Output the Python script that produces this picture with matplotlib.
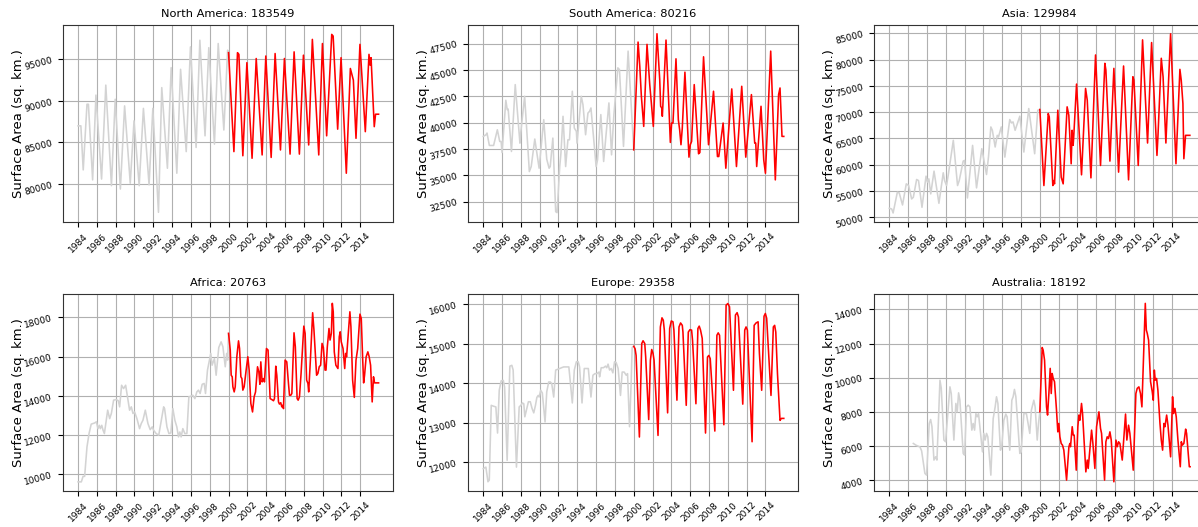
import matplotlib
matplotlib.use("Agg")
import matplotlib.pyplot as plt
import numpy as np

# ---------------- data (decimal year, surface area in sq. km) ----------------
na_years = [1984.0, 1984.3, 1984.55, 1984.95, 1985.1, 1985.55, 1985.9, 1986.5, 1986.95, 1987.55,
            1987.95, 1988.5, 1988.95, 1989.55, 1989.95, 1990.5, 1990.95, 1991.55, 1991.95, 1992.55,
            1992.9, 1993.5, 1993.9, 1994.5, 1994.9, 1995.5, 1995.95, 1996.55, 1996.95, 1997.5,
            1997.9, 1998.5, 1998.9, 1999.5, 1999.9, 2000.0, 2000.57, 2000.95, 2001.1, 2001.52,
            2001.95, 2002.5, 2002.94, 2003.57, 2003.96, 2004.53, 2004.95, 2005.52, 2005.94, 2006.54,
            2006.97, 2007.53, 2007.96, 2008.52, 2008.91, 2009.59, 2009.98, 2010.43, 2010.97, 2011.12,
            2011.6, 2011.96, 2012.52, 2012.95, 2013.27, 2013.55, 2013.97, 2014.54, 2014.93, 2015.05,
            2015.15, 2015.49, 2015.63, 2015.95]
na_area = [87000, 87000, 81700, 89600, 89600, 80500, 90700, 80600, 91900, 79800,
           90200, 79400, 89400, 80100, 87600, 79800, 89100, 79900, 89100, 76600,
           91600, 81900, 94000, 81300, 93800, 83900, 96500, 84400, 97300, 85800,
           96400, 84800, 96900, 86500, 96100, 95800, 83900, 95800, 95600, 83400,
           94600, 83100, 95100, 83500, 95400, 83200, 95700, 84100, 95100, 83600,
           95900, 83600, 95500, 84700, 97400, 83500, 96900, 85800, 98000, 97800,
           86600, 95200, 81300, 93900, 92500, 85500, 96800, 86300, 95600, 94300,
           95200, 86900, 88400, 88400]

sa_years = [1984.0, 1984.3, 1984.4, 1984.65, 1985.1, 1985.5, 1985.75, 1985.9, 1986.0, 1986.4,
            1986.55, 1986.65, 1987.0, 1987.4, 1987.9, 1987.98, 1988.4, 1988.9, 1989.1, 1989.48,
            1989.94, 1990.43, 1990.75, 1991.0, 1991.12, 1991.4, 1991.7, 1991.85, 1992.13, 1992.26,
            1992.48, 1992.76, 1993.0, 1993.17, 1993.47, 1993.68, 1993.9, 1993.97, 1994.42, 1994.6,
            1994.88, 1995.13, 1995.3, 1995.45, 1996.0, 1996.15, 1996.5, 1996.8, 1997.36, 1997.64,
            1997.89, 1998.31, 1998.48, 1998.91, 1999.4, 2000.0, 2000.46, 2000.64, 2000.81, 2001.06,
            2001.41, 2001.7, 2001.87, 2002.08, 2002.47, 2002.76, 2002.86, 2002.97, 2003.04, 2003.43,
            2003.75, 2003.89, 2004.03, 2004.17, 2004.49, 2004.74, 2004.88, 2005.02, 2005.16, 2005.44,
            2005.87, 2006.01, 2006.15, 2006.43, 2006.89, 2007.03, 2007.42, 2007.95, 2008.48, 2008.9,
            2009.04, 2009.5, 2009.79, 2010.42, 2010.92, 2011.48, 2011.91, 2012.51, 2012.86, 2012.97,
            2013.07, 2013.53, 2013.82, 2014.0, 2014.56, 2015.05, 2015.4, 2015.55, 2015.76, 2015.95]
sa_area = [38700, 38860, 39020, 37840, 37840, 39330, 38220, 38220, 37170, 42130,
           41240, 41300, 37270, 43620, 38060, 39000, 42510, 35360, 35840, 38450,
           35680, 40290, 36540, 35680, 35840, 38540, 31550, 31460, 35840, 37110,
           40610, 35840, 38380, 38380, 42990, 39490, 39180, 38060, 42510, 41720,
           38860, 40920, 41080, 41400, 35840, 36470, 40770, 36320, 41880, 36950,
           40770, 45210, 45050, 37750, 46800, 37430, 47660, 45370, 42510, 39650,
           47440, 43620, 41880, 39650, 48450, 44100, 41560, 41400, 40610, 47850,
           41240, 38130, 39970, 39970, 46070, 40290, 39330, 37910, 39490, 44800,
           36730, 37910, 38220, 43620, 37050, 37170, 46260, 37910, 42990, 36790,
           36790, 39970, 35680, 43210, 35840, 43460, 36730, 42670, 38060, 38060,
           35840, 41560, 36470, 35200, 46800, 34570, 42670, 43300, 38700, 38700]

asia_years = [1984.0, 1984.25, 1984.4, 1984.85, 1985.05, 1985.4, 1985.8, 1986.05, 1986.37, 1986.55,
              1986.9, 1987.1, 1987.47, 1987.9, 1988.05, 1988.2, 1988.4, 1988.75, 1989.27, 1989.73,
              1989.87, 1990.08, 1990.28, 1990.8, 1991.25, 1991.43, 1991.85, 1992.0, 1992.3, 1992.85,
              1993.27, 1993.83, 1994.33, 1994.54, 1994.79, 1994.95, 1995.25, 1995.47, 1995.6, 1995.9,
              1996.28, 1996.8, 1996.98, 1997.15, 1997.37, 1997.87, 1998.3, 1998.82, 1999.45, 1999.78,
              2000.0, 2000.43, 2000.89, 2001.0, 2001.38, 2001.49, 2001.56, 2001.91, 2002.27, 2002.48,
              2002.9, 2003.08, 2003.33, 2003.43, 2003.54, 2003.61, 2003.9, 2004.43, 2004.86, 2005.04,
              2005.43, 2005.92, 2006.45, 2006.91, 2007.02, 2007.45, 2007.87, 2008.37, 2008.9, 2009.43,
              2009.89, 2010.0, 2010.46, 2010.92, 2011.45, 2011.88, 2012.45, 2012.56, 2012.91, 2013.1,
              2013.4, 2013.9, 2014.47, 2014.89, 2015.03, 2015.21, 2015.31, 2015.49, 2015.95]
asia_area = [51720, 51590, 50830, 54780, 54650, 52350, 56370, 56050, 53500, 53820,
             57200, 57000, 51910, 57830, 56690, 57320, 54460, 58790, 52670, 58470,
             57000, 56050, 58280, 64650, 56050, 57000, 60700, 60830, 53690, 63690,
             55600, 63060, 58150, 61460, 67200, 66560, 63380, 65600, 65280, 67200,
             61460, 68600, 67960, 68150, 66560, 69240, 62420, 70700, 62100, 70380,
             70510, 56050, 69750, 69110, 56050, 57000, 56370, 70380, 57640, 56370,
             71020, 69430, 60190, 66560, 63700, 65600, 75350, 58090, 74520, 72290,
             57510, 80890, 59870, 79300, 78030, 60700, 78340, 58600, 78790, 57130,
             76750, 76120, 59870, 83760, 64140, 83250, 61780, 65600, 80260, 76750,
             64140, 84910, 60190, 78150, 76120, 71660, 61150, 65600, 65600]

africa_years = [1984.0, 1984.35, 1984.53, 1984.7, 1984.95, 1985.17, 1985.4, 1985.77, 1985.95, 1986.12,
                1986.26, 1986.37, 1986.52, 1986.66, 1986.8, 1987.15, 1987.36, 1987.54, 1987.78, 1988.06,
                1988.28, 1988.42, 1988.63, 1988.84, 1989.06, 1989.48, 1989.66, 1989.84, 1990.01, 1990.26,
                1990.54, 1990.72, 1990.9, 1991.15, 1991.43, 1991.67, 1991.89, 1992.03, 1992.3, 1992.58,
                1993.1, 1993.2, 1993.45, 1993.66, 1993.87, 1994.08, 1994.29, 1994.5, 1994.68, 1994.82,
                1994.96, 1995.14, 1995.35, 1995.57, 1995.78, 1996.0, 1996.2, 1996.42, 1996.63, 1996.8,
                1996.98, 1997.2, 1997.41, 1997.55, 1997.76, 1997.97, 1998.11, 1998.25, 1998.5, 1998.68,
                1998.96, 1999.21, 1999.4, 1999.65, 1999.8, 1999.9, 2000.0, 2000.18, 2000.28, 2000.39,
                2000.46, 2000.6, 2000.71, 2000.88, 2001.06, 2001.17, 2001.31, 2001.42, 2001.52, 2001.66,
                2001.87, 2002.05, 2002.19, 2002.37, 2002.55, 2002.72, 2002.87, 2003.08, 2003.22, 2003.33,
                2003.43, 2003.57, 2003.71, 2003.82, 2004.03, 2004.2, 2004.42, 2004.6, 2004.78, 2004.88,
                2005.02, 2005.13, 2005.31, 2005.41, 2005.55, 2005.66, 2005.77, 2005.84, 2006.01, 2006.19,
                2006.37, 2006.48, 2006.62, 2006.73, 2006.96, 2007.1, 2007.29, 2007.4, 2007.54, 2007.71,
                2008.0, 2008.14, 2008.3, 2008.44, 2008.52, 2008.7, 2008.94, 2009.08, 2009.36, 2009.5,
                2009.64, 2009.79, 2009.94, 2010.08, 2010.26, 2010.36, 2010.5, 2010.68, 2010.79, 2010.93,
                2011.03, 2011.13, 2011.24, 2011.41, 2011.63, 2011.77, 2011.87, 2011.98, 2012.17, 2012.35,
                2012.45, 2012.55, 2012.9, 2013.01, 2013.19, 2013.37, 2013.55, 2013.73, 2013.97, 2014.11,
                2014.25, 2014.36, 2014.46, 2014.63, 2014.81, 2014.95, 2015.1, 2015.27, 2015.41, 2015.52,
                2015.95]
africa_area = [9620, 9620, 9900, 9900, 11400, 12080, 12560, 12620, 12680, 12330,
               12500, 12330, 12500, 12250, 12080, 13270, 12840, 13100, 13780, 13810,
               13750, 13440, 14540, 14370, 14540, 13270, 13440, 13100, 13180, 12840,
               12330, 12590, 12760, 13270, 12590, 12280, 12420, 12250, 12080, 12000,
               13440, 13350, 12420, 12080, 12110, 13350, 12760, 12420, 11910, 12160,
               11910, 12330, 12080, 12080, 13950, 13980, 14030, 13860, 14200, 14290,
               14120, 14590, 14630, 14120, 15310, 15820, 16160, 15560, 15900, 15050,
               16460, 16750, 16500, 15480, 16160, 15820, 17180, 16330, 15050, 14970,
               14460, 14200, 14460, 15990, 16800, 16410, 14970, 14880, 14290, 14460,
               15310, 15990, 15310, 13610, 13180, 13950, 14200, 15480, 15220, 14590,
               15730, 14710, 14880, 14710, 16410, 16330, 13860, 13810, 13750, 13860,
               15510, 15050, 13690, 13580, 13650, 13440, 13520, 13350, 15820, 15730,
               14630, 14030, 14030, 14120, 17210, 16500, 13860, 13780, 13950, 15140,
               17550, 17180, 14800, 14630, 14200, 15820, 18230, 17350, 15050, 15140,
               15480, 15560, 16670, 16460, 15310, 15310, 16500, 17430, 16840, 17180,
               18710, 18280, 16240, 15560, 15390, 17010, 17260, 16750, 16410, 15390,
               16160, 15990, 18280, 17520, 14800, 13920, 15820, 16410, 18160, 17940,
               15990, 14660, 15050, 15990, 16240, 15990, 15560, 13690, 14970, 14660,
               14660]

europe_years = [1984.0, 1984.28, 1984.5, 1984.64, 1984.85, 1985.06, 1985.34, 1985.52, 1985.7, 1985.91,
                1986.13, 1986.27, 1986.54, 1986.83, 1987.04, 1987.18, 1987.53, 1987.82, 1988.0, 1988.16,
                1988.31, 1988.42, 1988.59, 1988.8, 1989.0, 1989.19, 1989.37, 1989.55, 1989.7, 1989.84,
                1989.94, 1990.11, 1990.28, 1990.57, 1990.75, 1990.96, 1991.13, 1991.28, 1991.49, 1991.7,
                1991.91, 1992.13, 1992.33, 1992.55, 1992.83, 1993.1, 1993.47, 1993.68, 1993.9, 1994.1,
                1994.24, 1994.5, 1994.74, 1994.95, 1995.17, 1995.45, 1995.66, 1995.87, 1996.08, 1996.3,
                1996.37, 1996.54, 1996.78, 1997.0, 1997.13, 1997.27, 1997.43, 1997.6, 1997.78, 1997.96,
                1998.13, 1998.34, 1998.59, 1998.77, 1998.98, 1999.2, 1999.34, 1999.55, 1999.72, 1999.83,
                2000.0, 2000.14, 2000.25, 2000.6, 2000.85, 2000.99, 2001.17, 2001.27, 2001.59, 2001.77,
                2001.91, 2002.05, 2002.16, 2002.58, 2002.83, 2003.0, 2003.14, 2003.25, 2003.6, 2003.82,
                2003.99, 2004.17, 2004.27, 2004.59, 2004.81, 2004.98, 2005.16, 2005.23, 2005.58, 2005.8,
                2005.97, 2006.15, 2006.25, 2006.61, 2006.82, 2006.96, 2007.1, 2007.28, 2007.63, 2007.84,
                2007.98, 2008.13, 2008.62, 2008.84, 2008.98, 2009.12, 2009.58, 2009.82, 2010.0, 2010.18,
                2010.6, 2010.81, 2010.99, 2011.13, 2011.59, 2011.8, 2011.94, 2012.08, 2012.58, 2012.8,
                2013.0, 2013.22, 2013.36, 2013.6, 2013.85, 2013.99, 2014.13, 2014.59, 2014.84, 2014.98,
                2015.1, 2015.28, 2015.55, 2015.69, 2015.95]
europe_area = [11840, 11880, 11510, 11550, 13440, 13420, 13400, 12740, 13820, 14060,
               14070, 13900, 12050, 14430, 14450, 14330, 11880, 13400, 13440, 13500,
               13480, 13150, 13320, 13530, 13530, 13360, 13250, 13440, 13640, 13690,
               13650, 13820, 13750, 13020, 13780, 14030, 14030, 13990, 13650, 14330,
               14350, 14370, 14390, 14410, 14410, 14410, 13500, 14330, 14540, 14540,
               14410, 13500, 14370, 14370, 14370, 13650, 14200, 14240, 14240, 14280,
               14160, 14390, 14390, 14430, 14390, 14480, 14330, 14370, 14260, 14540,
               14520, 14370, 13690, 14280, 14280, 14200, 14240, 12900, 13990, 14900,
               14930, 14870, 14700, 12640, 15000, 15070, 15000, 14660, 13080, 14580,
               14850, 14750, 14580, 12680, 15420, 15650, 15590, 15340, 13250, 15380,
               15570, 15550, 15340, 13570, 15420, 15520, 15460, 15290, 13440, 15290,
               15350, 15340, 15080, 13480, 15380, 15440, 15340, 15130, 12740, 14660,
               14700, 14620, 12790, 15210, 15270, 15210, 12950, 15970, 16010, 15930,
               13820, 15720, 15780, 15670, 13470, 15340, 15420, 15340, 12520, 15460,
               15520, 15550, 14750, 13820, 15690, 15760, 15640, 13690, 15420, 15460,
               15290, 14240, 13060, 13110, 13110]

aus_years = [1986.55, 1986.83, 1987.07, 1987.25, 1987.43, 1987.78, 1987.96, 1988.24, 1988.39, 1988.53,
             1988.74, 1988.92, 1989.06, 1989.38, 1989.52, 1989.8, 1989.98, 1990.44, 1990.58, 1990.86,
             1991.07, 1991.22, 1991.36, 1991.5, 1991.85, 1992.0, 1992.2, 1992.38, 1992.56, 1992.77,
             1992.91, 1993.06, 1993.2, 1993.34, 1993.48, 1993.9, 1994.04, 1994.18, 1994.33, 1994.47,
             1994.79, 1995.04, 1995.25, 1995.39, 1995.54, 1995.81, 1995.95, 1996.17, 1996.38, 1996.52,
             1996.8, 1997.02, 1997.16, 1997.3, 1997.45, 1997.87, 1998.01, 1998.3, 1998.57, 1998.75,
             1998.93, 1999.1, 1999.36, 1999.5, 1999.72, 1999.86, 2000.0, 2000.25, 2000.35, 2000.5,
             2000.71, 2000.82, 2000.96, 2001.1, 2001.21, 2001.31, 2001.42, 2001.56, 2001.77, 2001.91,
             2002.02, 2002.13, 2002.27, 2002.41, 2002.55, 2002.84, 2003.09, 2003.19, 2003.26, 2003.44,
             2003.55, 2003.65, 2003.87, 2004.04, 2004.15, 2004.26, 2004.43, 2004.54, 2004.89, 2005.04,
             2005.14, 2005.5, 2005.64, 2005.85, 2006.03, 2006.28, 2006.45, 2006.56, 2006.88, 2007.02,
             2007.16, 2007.3, 2007.45, 2007.59, 2007.87, 2008.09, 2008.23, 2008.37, 2008.51, 2008.76,
             2009.11, 2009.25, 2009.43, 2009.57, 2009.93, 2010.21, 2010.35, 2010.53, 2010.7, 2010.85,
             2011.21, 2011.32, 2011.42, 2011.56, 2011.77, 2011.95, 2012.06, 2012.17, 2012.27, 2012.41,
             2012.55, 2012.77, 2012.91, 2013.05, 2013.19, 2013.3, 2013.48, 2013.62, 2013.9, 2014.11,
             2014.22, 2014.36, 2014.5, 2014.68, 2014.93, 2015.04, 2015.14, 2015.31, 2015.5, 2015.6,
             2015.89, 2015.97]
aus_area = [6160, 6060, 6000, 5960, 5730, 4410, 4310, 7330, 7560, 7140,
            5190, 5380, 5190, 9860, 9380, 6360, 6260, 9470, 9080, 6360,
            8500, 8010, 9120, 8690, 5580, 5480, 8300, 8400, 8300, 6940,
            7330, 6940, 7910, 7720, 7910, 5670, 6750, 6360, 6750, 6550,
            4310, 7620, 8300, 8890, 8500, 5770, 5970, 7520, 7880, 7720,
            5770, 8690, 8890, 9320, 8890, 5580, 5670, 7910, 7910, 7330,
            6750, 8110, 8690, 8300, 6360, 7330, 8010, 11770, 11620, 11030,
            8300, 7820, 9080, 10550, 9080, 10250, 9960, 9770, 8110, 6840,
            7330, 6550, 6160, 6060, 5770, 4020, 5970, 6160, 5970, 7140,
            6650, 6650, 4600, 7140, 7820, 7520, 8500, 7910, 4500, 5190,
            4700, 6940, 6160, 4700, 7140, 8010, 7040, 6750, 4020, 6260,
            6550, 6450, 6840, 6360, 3920, 6360, 5970, 6260, 6160, 5190,
            7880, 6360, 7230, 6750, 4600, 9080, 9380, 9470, 9080, 8300,
            14350, 12790, 12590, 12200, 9770, 9180, 8690, 10450, 9860, 9960,
            9280, 7330, 6360, 5770, 7330, 7140, 7820, 7230, 5380, 8890,
            7910, 8210, 7720, 6360, 4800, 6260, 6060, 6160, 7000, 6750,
            4800, 4800]

titles = ["North America: 183549", "South America: 80216", "Asia: 129984",
          "Africa: 20763", "Europe: 29358", "Australia: 18192"]
series_years = [na_years, sa_years, asia_years, africa_years, europe_years, aus_years]
series_area = [na_area, sa_area, asia_area, africa_area, europe_area, aus_area]
x_ticks = list(range(1984, 2015, 2))
y_ticks = [
    [80000, 85000, 90000, 95000],
    [32500, 35000, 37500, 40000, 42500, 45000, 47500],
    [50000, 55000, 60000, 65000, 70000, 75000, 80000, 85000],
    [10000, 12000, 14000, 16000, 18000],
    [12000, 13000, 14000, 15000, 16000],
    [4000, 6000, 8000, 10000, 12000, 14000],
]
split_year = 2000.0

# ---------------- layout ----------------
W, H = 1198, 527
y_limits = [(75470, 99130), (30600, 49280), (49170, 86590),
            (9170, 19170), (11284, 16244), (3400, 14880)]
lefts_px = [63.0, 468.2, 874.3]
width_px = 329.5
rows_px = [(25.0, 221.7), (294.3, 490.7)]

fig = plt.figure(figsize=(W / 100, H / 100), dpi=100)

for i in range(6):
    r, c = divmod(i, 3)
    top, bot = rows_px[r]
    ax = fig.add_axes([lefts_px[c] / W, 1 - bot / H, width_px / W, (bot - top) / H])
    t = np.asarray(series_years[i], dtype=float)
    v = np.asarray(series_area[i], dtype=float)
    m_old = t <= split_year
    m_new = t >= split_year
    ax.plot(t[m_old], v[m_old], color="lightgrey", lw=1.15, zorder=3)
    ax.plot(t[m_new], v[m_new], color="red", lw=1.15, zorder=3)
    ax.set_xlim(1982.4, 2017.43)
    ax.set_ylim(*y_limits[i])
    ax.set_xticks(x_ticks)
    ax.set_xticklabels([str(y) for y in x_ticks], rotation=45, fontsize=6.5)
    ax.set_yticks(y_ticks[i])
    ax.set_yticklabels([str(y) for y in y_ticks[i]], rotation=15, fontsize=6.5)
    ax.grid(True, color="#b0b0b0", lw=0.8)
    ax.set_axisbelow(True)
    ax.set_title(titles[i], fontsize=8.2)
    ax.set_ylabel("Surface Area (sq. km.)", fontsize=9.5)
    ax.yaxis.set_label_coords(-0.115, 0.5)
    for s in ax.spines.values():
        s.set_color("#333333")

fig.savefig("out.png", dpi=100)
